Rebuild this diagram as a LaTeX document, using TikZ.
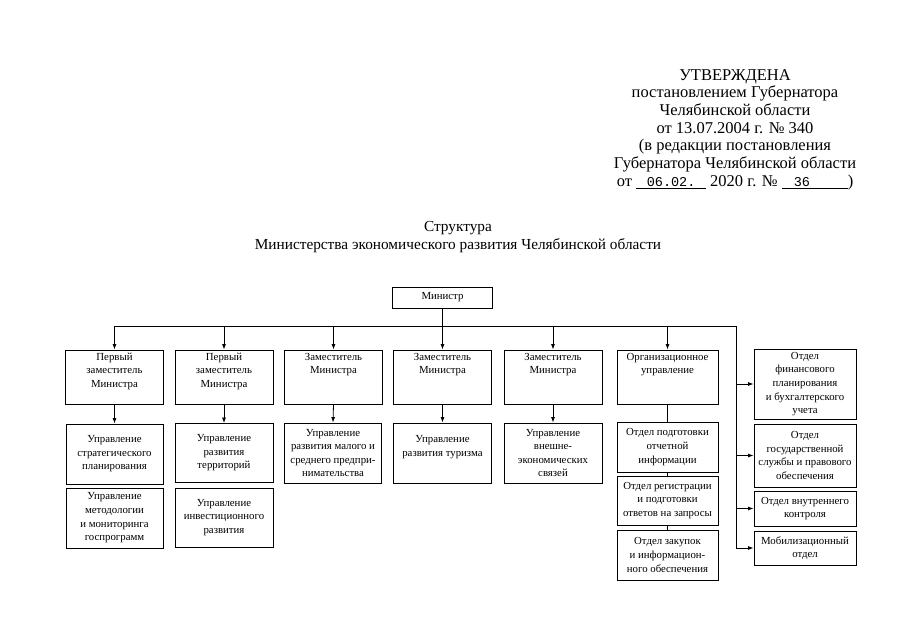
\documentclass[tikz,border=0pt]{standalone}
\usepackage{fontspec}
\setmainfont{Liberation Serif}
\setmonofont{Liberation Mono}
\usetikzlibrary{arrows.meta}
\begin{document}
\begin{tikzpicture}[x=1pt,y=-1pt,
  ob/.style={draw, line width=0.9pt, align=center, inner sep=1pt, font=\fontsize{10.8}{13.6}\selectfont},
  rowone/.style={ob, minimum width=98pt, minimum height=54pt},
  rowtwo/.style={ob, minimum width=98pt, minimum height=60pt},
  orgc/.style={ob, minimum width=101pt},
  rgt/.style={ob, minimum width=102pt},
  ln/.style={line width=0.8pt},
  arr/.style={ln, -{Latex[length=5.5pt,width=4pt]}}]
\useasboundingbox (0,0) rectangle (905,640);

% header
\node[anchor=north, align=center, inner sep=0pt, font=\fontsize{16.5}{17.7}\selectfont] (hdr) at (735,69)
 {УТВЕРЖДЕНА\\постановлением Губернатора\\Челябинской области\\от 13.07.2004 г. № 340\\(в редакции постановления\\Губернатора Челябинской области\\от \underline{\makebox[70pt]{\ttfamily\fontsize{13.5}{15}\selectfont 06.02.}} 2020 г. № \underline{\makebox[66pt][l]{\hspace{12pt}\ttfamily\fontsize{13.5}{15}\selectfont 36}})};

% title
\node[anchor=north, align=center, inner sep=0pt, font=\fontsize{15.3}{18}\selectfont] (ttl) at (458,221)
 {Структура\\Министерства экономического развития Челябинской области};

% minister
\node[ob, minimum width=100pt, minimum height=21pt] (min) at (442.5,297.5) {Министр};

% row 1
\node[rowone] (z1) at (114.5,377) {Первый\\заместитель\\Министра\\\mbox{}};
\node[rowone] (z2) at (224,377) {Первый\\заместитель\\Министра\\\mbox{}};
\node[rowone] (z3) at (333.5,377) {Заместитель\\Министра\\\mbox{}\\\mbox{}};
\node[rowone] (z4) at (442.5,377) {Заместитель\\Министра\\\mbox{}\\\mbox{}};
\node[rowone] (z5) at (553,377) {Заместитель\\Министра\\\mbox{}\\\mbox{}};
\node[rowone, minimum width=101pt] (z6) at (667.5,377) {Организационное\\управление\\\mbox{}\\\mbox{}};

% row 2
\node[rowtwo, minimum width=97pt] (u1) at (114.5,454) {Управление\\стратегического\\планирования};
\node[rowtwo, minimum width=97pt] (u1b) at (114.5,518) {Управление\\методологии\\и мониторинга\\госпрограмм};
\node[rowtwo, minimum height=59pt] (u2) at (224,453) {Управление\\развития\\территорий};
\node[rowtwo, minimum height=59pt] (u2b) at (224,517.5) {Управление\\инвестиционного\\развития};
\node[rowtwo, minimum width=97pt] (u3) at (333,453) {Управление\\развития малого и\\среднего предпри-\\нимательства};
\node[rowtwo] (u4) at (442.5,453) {Управление\\развития туризма\\\mbox{}};
\node[rowtwo] (u5) at (553,453) {Управление\\внешне-\\экономических\\связей};

% organisational children
\node[orgc, minimum height=50pt] (o1) at (667.5,447) {Отдел подготовки\\отчетной\\информации};
\node[orgc, minimum height=49pt] (o2) at (667.5,500.5) {Отдел регистрации\\и подготовки\\ответов на запросы};
\node[orgc, minimum height=50pt] (o3) at (667.5,555) {Отдел закупок\\и информацион-\\ного обеспечения};

% right column
\node[rgt, minimum height=70pt] (ra) at (805,384) {Отдел\\финансового\\планирования\\и бухгалтерского\\учета};
\node[rgt, minimum height=63pt] (rb) at (805,455.5) {Отдел\\государственной\\службы и правового\\обеспечения};
\node[rgt, minimum height=35pt] (rc) at (805,508.5) {Отдел внутреннего\\контроля};
\node[rgt, minimum height=34pt] (rd) at (805,548) {Мобилизационный\\отдел};

% bus
\coordinate (bl) at (114.5,326);
\coordinate (br) at (736,326);
\coordinate (bc) at (736,548);
\draw[ln] (bl) -- (br) -- (bc);
\draw[arr] (min.south) -- (z4.north);
\draw[arr] (bl) -- (z1.north);
\draw[arr] (z2.north |- bl) -- (z2.north);
\draw[arr] (z3.north |- bl) -- (z3.north);
\draw[arr] (z5.north |- bl) -- (z5.north);
\draw[arr] (z6.north |- bl) -- (z6.north);

% right arrows
\draw[arr] (ra.west -| br) -- (ra.west);
\draw[arr] (rb.west -| br) -- (rb.west);
\draw[arr] (rc.west -| br) -- (rc.west);
\draw[arr] (bc) -- (rd.west);

% row1 -> row2
\draw[arr] (z1.south) -- (u1.north);
\draw[arr] (z2.south) -- (u2.north);
\draw[arr] (z3.south) -- (u3.north);
\draw[arr] (z4.south) -- (u4.north);
\draw[arr] (z5.south) -- (u5.north);
\draw[ln] (z6.south) -- (o1.north);
\draw[ln] (o1.south) -- (o2.north);
\draw[ln] (o2.south) -- (o3.north);
\end{tikzpicture}
\end{document}
